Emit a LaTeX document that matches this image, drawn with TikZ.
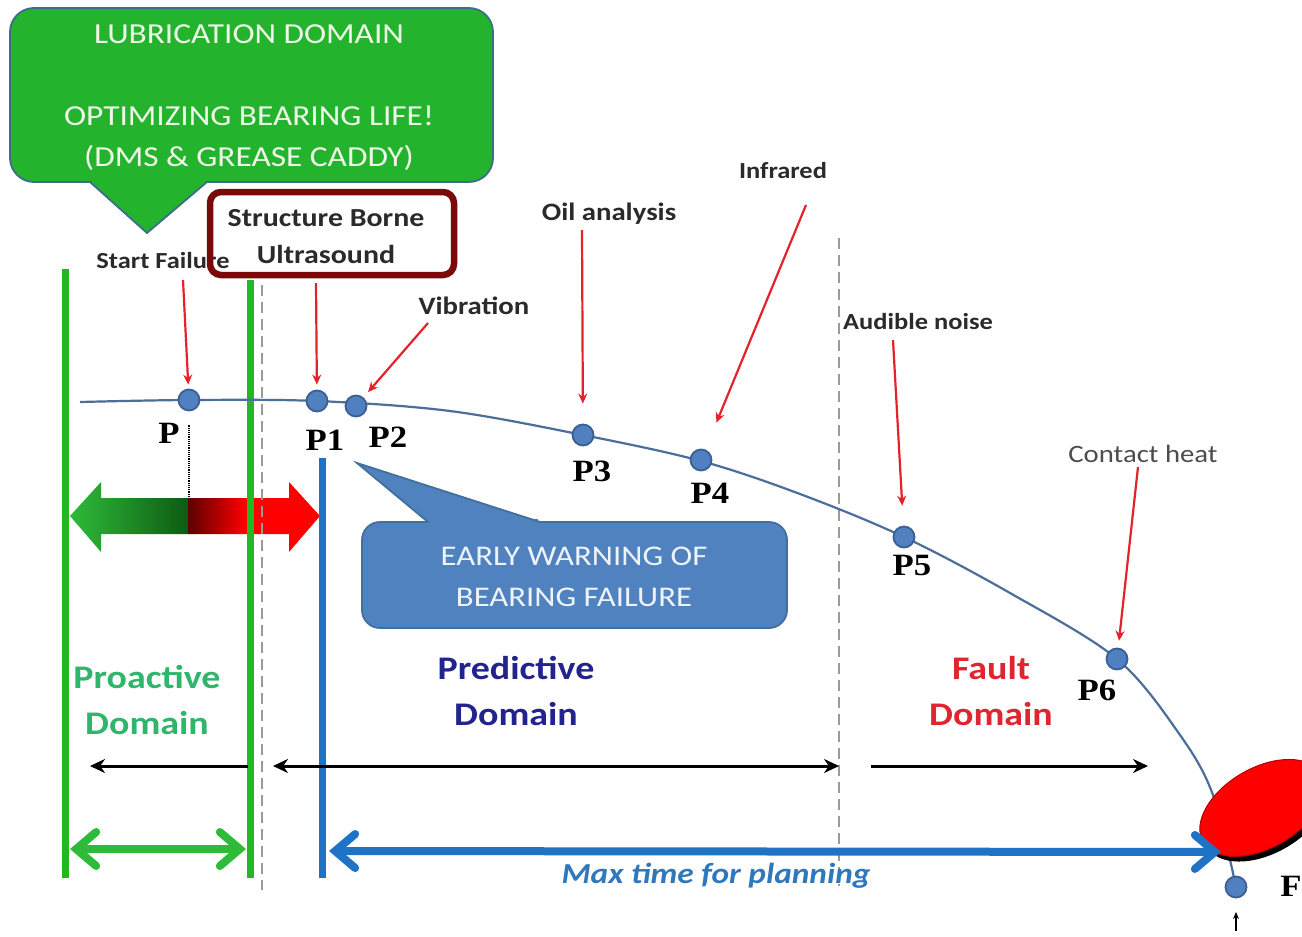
\documentclass[tikz,border=0pt]{standalone}
\usepackage{fontspec}
\setmainfont{Carlito}[FakeStretch=1.15]
\newfontfamily\pserif{Liberation Serif}[FakeStretch=1.12]
\usetikzlibrary{arrows.meta,shapes.geometric}

\definecolor{lubgreen}{HTML}{24B32C}
\definecolor{lubedge}{HTML}{3C6E8C}
\definecolor{lubtext}{HTML}{EEF8E8}
\definecolor{boxred}{HTML}{7A0A0A}
\definecolor{bargreen}{HTML}{22B822}
\definecolor{curveblue}{HTML}{4B6E9A}
\definecolor{dotblue}{HTML}{5080C0}
\definecolor{dotedge}{HTML}{3A5F94}
\definecolor{pointred}{HTML}{E4222C}
\definecolor{planblue}{HTML}{1E73C6}
\definecolor{warnblue}{HTML}{4F82BF}
\definecolor{warnedge}{HTML}{41709F}
\definecolor{warntext}{HTML}{EEF3FA}
\definecolor{proactgreen}{HTML}{30B56C}
\definecolor{predictnavy}{HTML}{23238E}
\definecolor{faultred}{HTML}{DF2530}
\definecolor{maxblue}{HTML}{2F78BC}
\definecolor{labelgray}{HTML}{2A2A2A}
\definecolor{sepgray}{HTML}{9A9A9A}
\definecolor{arrowgreen}{HTML}{2EBB3A}
\definecolor{shaftdkgreen}{HTML}{0E5A12}
\definecolor{shaftdkred}{HTML}{5C0000}

\begin{document}
\begin{tikzpicture}[x=1pt,y=-1pt,
  dot/.style={circle,fill=dotblue,draw=dotedge,line width=1.8pt,minimum size=21pt,inner sep=0pt},
  plab/.style={font=\pserif\bfseries\fontsize{31}{31}\selectfont,inner sep=0pt},
  tlab/.style={font=\bfseries\fontsize{#1}{#1}\selectfont,text=labelgray,inner sep=0pt},
  domname/.style={font=\bfseries\fontsize{33}{46}\selectfont,align=center,inner sep=0pt},
  redarr/.style={draw=pointred,line width=2.2pt,-{Stealth[length=10pt,width=9pt]}},
  vgreen/.style={draw=bargreen,line width=7pt},
  sepline/.style={draw=sepgray,line width=1.8pt,dash pattern=on 11pt off 6pt},
  spanarr/.style={line width=3pt},
  chevron/.style={line width=8pt,line cap=round,
    {Straight Barb[length=20pt,width=34pt,line cap=round]}-{Straight Barb[length=20pt,width=34pt,line cap=round]}}
]
\useasboundingbox (0,0) rectangle (1302,937);
\clip (0,0) rectangle (1302,937);
\fill[white] (0,0) rectangle (1302,937);

% ---------- fat two-colour arrow around the start of failure
\begin{scope}
  \clip (70,516) -- (101,482) -- (101,498) -- (289,498) -- (289,482) -- (320,516)
        -- (289,552) -- (289,534) -- (101,534) -- (101,552) -- cycle;
  \shade[left color=arrowgreen,right color=shaftdkgreen] (70,470) rectangle (188.5,560);
  \shade[left color=shaftdkred,right color=red] (188,470) rectangle (245,560);
  \fill[red] (244.5,470) rectangle (321,560);
\end{scope}

% ---------- domain boundaries
\draw[vgreen] (65,269) -- (65,878);
\draw[vgreen] (250,280) -- (250,878);
\draw[sepline] (262,285) -- (262,890);
\draw[sepline] (839,238) -- (839,886);
\draw[draw=planblue,line width=7pt] (322,458) -- (322,878);

% ---------- degradation curve
\draw[curveblue,line width=2.2pt] plot[smooth,tension=0.55] coordinates
  {(80,402) (189,400) (317,401) (450,411) (583,435) (701,461) (800,494) (904,537)
   (1010,593) (1117,659) (1180,735) (1213,795) (1236,887)};

% ---------- failure ellipse
\node[ellipse,fill=black,minimum width=136pt,minimum height=80pt,rotate=30,inner sep=0pt] (failshadow) at (1266,813) {};
\node[ellipse,fill=red,draw=red!70!black,line width=1pt,minimum width=136pt,minimum height=80pt,rotate=30,inner sep=0pt] (fail) at (1262,808) {};

% ---------- measurement points
\node[dot] (p0) at (189,400) {};
\node[dot] (p1) at (317,401) {};
\node[dot] (p2) at (356,406) {};
\node[dot] (p3) at (583,435) {};
\node[dot] (p4) at (701,460) {};
\node[dot] (p5) at (904,537) {};
\node[dot] (p6) at (1117,659) {};
\node[dot] (pf) at (1236,887) {};

\node[plab] (lp0) at (169,433) {P};
\node[plab] (lp1) at (325,440) {P1};
\node[plab] (lp2) at (388,437) {P2};
\node[plab] (lp3) at (592,471) {P3};
\node[plab] (lp4) at (710,493) {P4};
\node[plab] (lp5) at (912,565) {P5};
\node[plab] (lp6) at (1097,690) {P6};
\node[plab] (lpf) at (1291,886) {F};

\draw[densely dotted,line width=1.2pt] (p0.south) ++(0,14) coordinate (dtop) -- (189,498) coordinate (dbot);

% ---------- technique labels and their pointers
\node[tlab=23] (sf) at (163,261) {Start Failure};
\node[tlab=25] (vib) at (474,306) {Vibration};
\node[tlab=25] (oil) at (609,214) {Oil analysis};
\node[tlab=23] (ir) at (783,171) {Infrared};
\node[tlab=23] (aud) at (918,322) {Audible noise};
\node[font=\fontsize{25}{25}\selectfont,text=black!70,inner sep=0pt] (ch) at (1143,454) {Contact heat};

\coordinate (tsf) at (183,280);
\coordinate (tus) at (316,283);
\coordinate (tvib) at (428,323);
\coordinate (toil) at (582,230);
\coordinate (tir) at (806,205);
\coordinate (taud) at (893,340);
\coordinate (tch) at (1138,467);
\draw[redarr,shorten >=4pt] (tsf) -- (p0);
\draw[redarr,shorten >=5pt] (tus) -- (p1);
\draw[redarr,shorten >=7pt] (tvib) -- (p2);
\draw[redarr,shorten >=20pt] (toil) -- (p3);
\draw[redarr,shorten >=29pt] (tir) -- (p4);
\draw[redarr,shorten >=20pt] (taud) -- (p5);
\draw[redarr,shorten >=7pt] (tch) -- (p6);

% ---------- structure borne ultrasound box
\node[tlab=26,align=center,font=\bfseries\fontsize{26}{37}\selectfont] (sbu) at (326,237) {Structure Borne\\Ultrasound};
\draw[boxred,line width=6.5pt,rounded corners=11pt] (210,192) rectangle (454,275);

% ---------- lubrication callout
\draw[fill=lubgreen,draw=lubedge,line width=1.8pt,rounded corners=24pt] (10,8) rectangle (493,182);
\fill[lubgreen] (90,182) -- (147,233) -- (207,182) -- cycle;
\fill[lubgreen] (92,178) rectangle (205,183.5);
\draw[lubedge,line width=1.8pt] (90,182) -- (147,233) -- (207,182);
\node[font=\fontsize{29}{41}\selectfont,text=lubtext,align=center,inner sep=0pt] (lub) at (249,98)
  {LUBRICATION DOMAIN\\[41pt]OPTIMIZING BEARING LIFE!\\(DMS \& GREASE CADDY)};

% ---------- early warning callout
\draw[fill=warnblue,draw=warnedge,line width=1.8pt,rounded corners=18pt] (362,522) rectangle (787,628);
\fill[warnblue] (428,522) -- (357,463) -- (540,522) -- cycle;
\fill[warnblue] (430,519) rectangle (538,524);
\draw[warnedge,line width=1.8pt] (428,522) -- (357,463) -- (540,522);
\node[font=\fontsize{28.5}{41}\selectfont,text=warntext,align=center,inner sep=0pt] (warn) at (574,577)
  {EARLY WARNING OF\\BEARING FAILURE};

% ---------- domain names
\node[domname,text=proactgreen] (proact) at (147,700) {Proactive\\Domain};
\node[domname,text=predictnavy] (predict) at (516,691) {Predictive\\Domain};
\node[domname,text=faultred] (fault) at (991,691) {Fault\\Domain};

% ---------- domain span arrows
\coordinate (a1s) at (248,766); \coordinate (a1e) at (90,766);
\coordinate (a2s) at (273,766); \coordinate (a2e) at (839,766);
\coordinate (a3s) at (871,766); \coordinate (a3e) at (1148,766);
\draw[spanarr,-{Stealth[length=15pt,width=14pt]}] (a1s) -- (a1e);
\draw[spanarr,{Stealth[length=15pt,width=14pt]}-{Stealth[length=15pt,width=14pt]}] (a2s) -- (a2e);
\draw[spanarr,-{Stealth[length=15pt,width=14pt]}] (a3s) -- (a3e);

% ---------- time windows
\coordinate (g0) at (70,849); \coordinate (g1) at (246,849);
\draw[chevron,draw=arrowgreen] (g0) -- (g1);
\coordinate (b0) at (329,851); \coordinate (b1) at (1221,852);
\draw[chevron,draw=planblue] (b0) -- (b1);
\node[font=\bfseries\itshape\fontsize{29}{29}\selectfont,text=maxblue,inner sep=0pt] (maxt) at (716,876) {Max time for planning};

% ---------- failure marker
\coordinate (fa0) at (1236,931); \coordinate (fa1) at (1236,912);
\draw[line width=1.4pt,-{Stealth[length=7pt,width=6pt]}] (fa0) -- (fa1);
\end{tikzpicture}
\end{document}
